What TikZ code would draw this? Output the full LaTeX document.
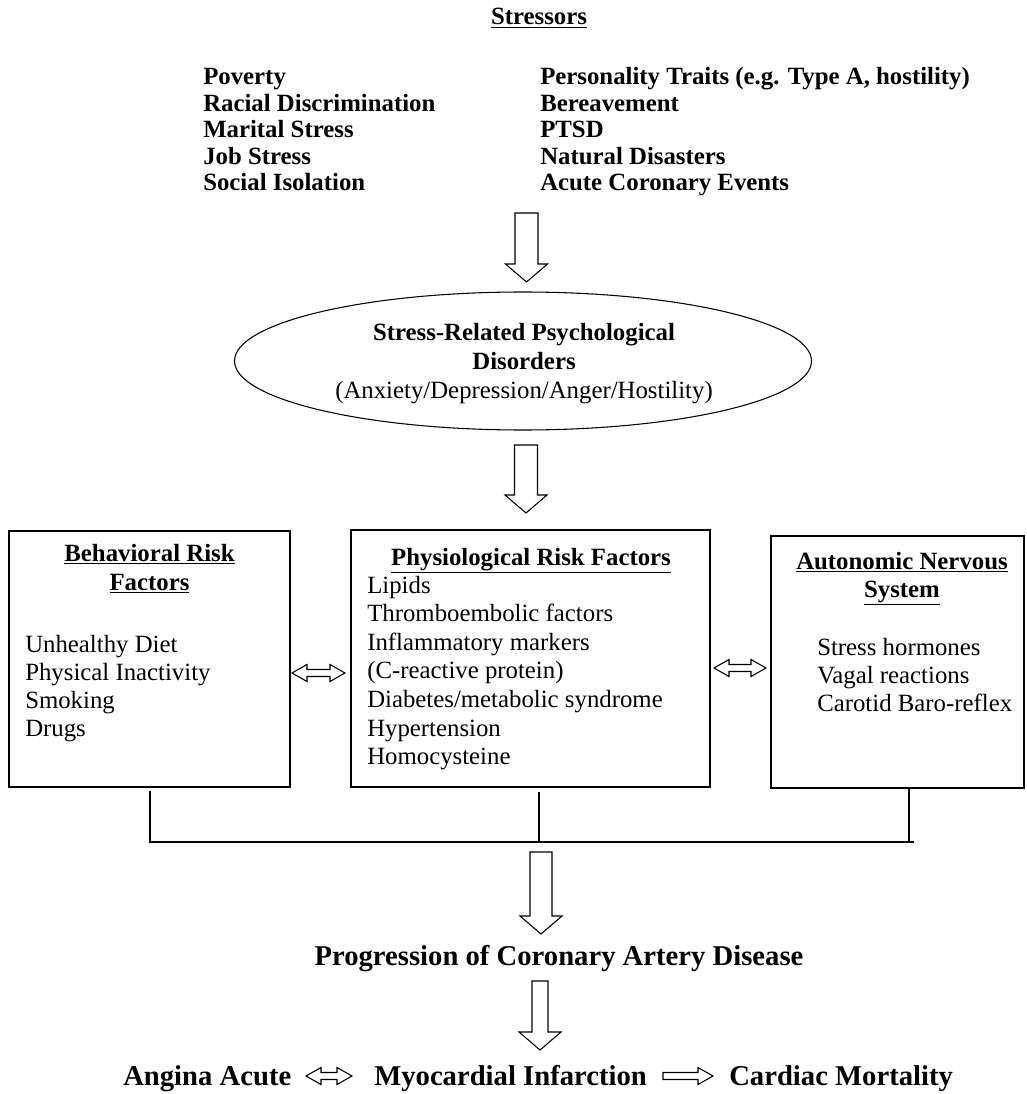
\documentclass[tikz,border=0pt]{standalone}
\usepackage{fontspec}
\setmainfont{Liberation Serif}
\usetikzlibrary{shapes.geometric,calc}
% #1 start coordinate, #2 tip coordinate, #3 half shaft width
\newcommand\blockdown[3]{%
  \draw[blk] ($(#1)+(-#3,0)$) -- ($(#1)+(#3,0)$) -- ($(#2)+(#3,-18)$) -- ($(#2)+(21,-18)$) -- (#2) -- ($(#2)+(-21,-18)$) -- ($(#2)+(-#3,-18)$) -- cycle;}
\newcommand\blockboth[2]{%
  \draw[blk] (#1) -- ($(#1)+(15,-8.5)$) -- ($(#1)+(15,-3.5)$) -- ($(#2)+(-15,-3.5)$) -- ($(#2)+(-15,-8.5)$) -- (#2) -- ($(#2)+(-15,8.5)$) -- ($(#2)+(-15,3.5)$) -- ($(#1)+(15,3.5)$) -- ($(#1)+(15,8.5)$) -- cycle;}
\newcommand\blockright[2]{%
  \draw[blk] ($(#1)+(0,-3.5)$) -- ($(#2)+(-15,-3.5)$) -- ($(#2)+(-15,-8.5)$) -- (#2) -- ($(#2)+(-15,8.5)$) -- ($(#2)+(-15,3.5)$) -- ($(#1)+(0,3.5)$) -- cycle;}
\begin{document}
\begin{tikzpicture}[x=0.75pt,y=-0.75pt,
  txt/.style={inner sep=0pt, anchor=base west, font=\fontsize{18.6}{21.4}\selectfont},
  btxt/.style={inner sep=0pt, anchor=base west, font=\fontsize{18.6}{21.4}\selectfont\bfseries},
  ttl/.style={inner sep=0pt, anchor=base, font=\fontsize{18.6}{21.4}\selectfont\bfseries},
  ctxt/.style={inner sep=0pt, anchor=base, font=\fontsize{18.6}{21.4}\selectfont},
  big/.style={inner sep=0pt, font=\fontsize{21.5}{24}\selectfont\bfseries},
  boxn/.style={draw, inner sep=0pt, line width=1pt},
  blk/.style={draw, line width=0.8pt, fill=white, line join=miter},
  conn/.style={draw, line width=0.8pt}]
\useasboundingbox (0,0) rectangle (1026,1094);

% Stressors
\node[ttl] (st) at (539,25) {\underline{Stressors}};
\node[btxt] (s1) at (203,85) {Poverty};
\node[btxt] (s2) at (203,111.5) {Racial Discrimination};
\node[btxt] (s3) at (203,138) {Marital Stress};
\node[btxt] (s4) at (203,164.5) {Job Stress};
\node[btxt] (s5) at (203,191) {Social Isolation};
\node[btxt] (r1) at (540,85) {Personality Traits (e.g. Type A, hostility)};
\node[btxt] (r2) at (540,111.5) {Bereavement};
\node[btxt] (r3) at (540,138) {PTSD};
\node[btxt] (r4) at (540,164.5) {Natural Disasters};
\node[btxt] (r5) at (540,191) {Acute Coronary Events};

% Ellipse
\node[draw, ellipse, line width=0.8pt, minimum width=577*0.75pt, minimum height=138*0.75pt, inner sep=0pt] (ell) at (523,361) {};
\node[ttl] (e1) at (524,340) {Stress-Related Psychological};
\node[ttl] (e2) at (524,369) {Disorders};
\node[ctxt] (e3) at (524,398) {(Anxiety/Depression/Anger/Hostility)};

\coordinate (a1s) at (526.5,213); \coordinate (a1e) at (526.5,282);
\blockdown{a1s}{a1e}{11.5}
\coordinate (a2s) at (526,445); \coordinate (a2e) at (526,513);
\blockdown{a2s}{a2e}{11.5}

% Boxes
\node[boxn, minimum width=281*0.75pt, minimum height=256*0.75pt] (lbox) at (149.5,659) {};
\node[boxn, minimum width=359*0.75pt, minimum height=257*0.75pt] (mbox) at (530.5,658.5) {};
\node[boxn, minimum width=253*0.75pt, minimum height=252*0.75pt] (rbox) at (897.5,662) {};

\node[ttl] (lt1) at (149.5,561) {\underline{Behavioral Risk}};
\node[ttl] (lt2) at (149.5,590) {\underline{Factors}};
\node[txt] (l1) at (25,652) {Unhealthy Diet};
\node[txt] (l2) at (25,680) {Physical Inactivity};
\node[txt] (l3) at (25,708) {Smoking};
\node[txt] (l4) at (25,736) {Drugs};

\node[ttl] (mt) at (531,565) {\underline{Physiological Risk Factors}};
\node[txt] (m1) at (367,593) {Lipids};
\node[txt] (m2) at (367,621.6) {Thromboembolic factors};
\node[txt] (m3) at (367,650.2) {Inflammatory markers};
\node[txt] (m4) at (367,678.8) {(C-reactive protein)};
\node[txt] (m5) at (367,707.4) {Diabetes/metabolic syndrome};
\node[txt] (m6) at (367,736) {Hypertension};
\node[txt] (m7) at (367,764.6) {Homocysteine};

\node[ttl] (rt1) at (902,569) {\underline{Autonomic Nervous}};
\node[ttl] (rt2) at (902,597) {\underline{System}};
\node[txt] (q1) at (817,655) {Stress hormones};
\node[txt] (q2) at (817,683) {Vagal reactions};
\node[txt] (q3) at (817,711) {Carotid Baro-reflex};

% double arrows between boxes
\coordinate (d1a) at (292,673); \coordinate (d1b) at (345,673);
\blockboth{d1a}{d1b}
\coordinate (d2a) at (714,668); \coordinate (d2b) at (766,668);
\blockboth{d2a}{d2b}

% joining lines
\coordinate (jl) at (150,842); \coordinate (jm) at (539,842); \coordinate (jr) at (909,842); \coordinate (je) at (914,842);
\draw[conn] ($(lbox.south)+(0.5,3)$) -- (jl) -- (je);
\draw[conn] (539,792) -- (jm);
\draw[conn] (909,788) -- (jr);

\coordinate (a3s) at (541,852); \coordinate (a3e) at (541,934);
\blockdown{a3s}{a3e}{11}
\node[big, anchor=base] (prog) at (559,965) {Progression of Coronary Artery Disease};
\coordinate (a4s) at (540,981); \coordinate (a4e) at (540,1050);
\blockdown{a4s}{a4e}{8}

% bottom line
\node[big, anchor=base west] (ang) at (123,1085) {Angina Acute};
\node[big, anchor=base west] (myo) at (374,1085) {Myocardial Infarction};
\node[big, anchor=base west] (car) at (729,1085) {Cardiac Mortality};
\coordinate (b1a) at (306,1076); \coordinate (b1b) at (352,1076);
\blockboth{b1a}{b1b}
\coordinate (b2a) at (663,1076); \coordinate (b2b) at (713,1076);
\blockright{b2a}{b2b}
\end{tikzpicture}
\end{document}
